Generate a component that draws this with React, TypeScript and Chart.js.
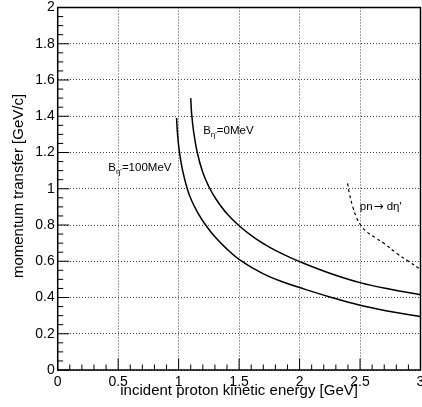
import { useEffect, useRef } from "react";
import { Chart, registerables } from "chart.js";

Chart.register(...registerables);

// incident proton kinetic energy [GeV] and momentum transfer [GeV/c]
const b0Energy = [1.1, 1.108, 1.125, 1.154, 1.2, 1.259, 1.314, 1.4, 1.5, 1.625, 1.75, 1.875, 2.0, 2.25, 2.5, 2.75, 3.0];
const b0Transfer = [1.5, 1.41, 1.31, 1.2, 1.09, 1.0, 0.938, 0.862, 0.796, 0.73, 0.678, 0.635, 0.598, 0.534, 0.482, 0.445, 0.415];

const b100Energy = [0.983, 0.99, 1.005, 1.03, 1.071, 1.107, 1.16, 1.223, 1.3, 1.4, 1.5, 1.625, 1.75, 1.875, 2.0, 2.25, 2.5, 2.75, 3.0];
const b100Transfer = [1.39, 1.31, 1.21, 1.11, 1.0, 0.935, 0.866, 0.8, 0.735, 0.667, 0.61, 0.558, 0.515, 0.483, 0.455, 0.403, 0.357, 0.323, 0.295];

const etaPrimeEnergy = [2.397, 2.41, 2.44, 2.475, 2.51, 2.56, 2.63, 2.7, 2.8, 2.9, 3.0];
const etaPrimeTransfer = [1.03, 0.98, 0.9, 0.835, 0.795, 0.76, 0.728, 0.698, 0.645, 0.6, 0.556];

const xTicks = [0, 0.5, 1, 1.5, 2, 2.5, 3];
const yTicks = [0, 0.2, 0.4, 0.6, 0.8, 1, 1.2, 1.4, 1.6, 1.8, 2];

const xTitle = "incident proton kinetic energy [GeV]";
const yTitle = "momentum transfer [GeV/c]";

const FONT = "'Liberation Sans', Arial, Helvetica, sans-serif";

const toPoints = (xs: number[], ys: number[]) => xs.map((x, i) => ({ x, y: ys[i] }));

const decorPlugin = {
  id: "decor",
  afterDraw(chart: any) {
    const { ctx, chartArea: a, scales } = chart;
    const xs = scales.x;
    const ys = scales.y;
    ctx.save();
    ctx.strokeStyle = "#000";
    ctx.lineWidth = 1;
    for (let i = 0; i <= 30; i++) {
      const v = i / 10;
      const px = xs.getPixelForValue(v);
      const len = i % 5 === 0 ? 11.5 : 5.5;
      ctx.beginPath();
      ctx.moveTo(px, a.bottom);
      ctx.lineTo(px, a.bottom - len);
      ctx.stroke();
    }
    for (let i = 0; i <= 40; i++) {
      const v = i * 0.05;
      const py = ys.getPixelForValue(v);
      const len = i % 4 === 0 ? 11.5 : 5.5;
      ctx.beginPath();
      ctx.moveTo(a.left, py);
      ctx.lineTo(a.left + len, py);
      ctx.stroke();
    }
    ctx.lineWidth = 1.5;
    ctx.strokeRect(a.left, a.top, a.right - a.left, a.bottom - a.top);

    ctx.fillStyle = "#000";
    ctx.font = `15px ${FONT}`;
    ctx.textAlign = "center";
    ctx.textBaseline = "middle";
    ctx.fillText(xTitle, (a.left + a.right) / 2, 391);
    ctx.save();
    ctx.translate(19, 186);
    ctx.rotate(-Math.PI / 2);
    ctx.fillText(yTitle, 0, 0);
    ctx.restore();

    const drawB = (label: string, xv: number, yv: number) => {
      let px = xs.getPixelForValue(xv);
      const py = ys.getPixelForValue(yv);
      ctx.textAlign = "left";
      ctx.textBaseline = "middle";
      ctx.font = `11.5px ${FONT}`;
      ctx.fillText("B", px, py);
      px += ctx.measureText("B").width;
      ctx.font = `8px ${FONT}`;
      ctx.fillText("\u03B7'", px, py + 4);
      px += ctx.measureText("\u03B7'").width;
      ctx.font = `11.5px ${FONT}`;
      ctx.fillText(label, px, py);
    };
    drawB("=0MeV", 1.203, 1.317);
    drawB("=100MeV", 0.418, 1.114);

    let px0 = xs.getPixelForValue(2.498);
    const py0 = ys.getPixelForValue(0.902);
    ctx.font = `11.5px ${FONT}`;
    ctx.textAlign = "left";
    ctx.textBaseline = "middle";
    ctx.fillText("pn", px0, py0);
    px0 += ctx.measureText("pn").width + 1;
    ctx.font = `12px 'DejaVu Sans', sans-serif`;
    ctx.fillText("\u2192", px0, py0);
    px0 += ctx.measureText("\u2192").width + 3;
    ctx.font = `11.5px ${FONT}`;
    ctx.fillText("d\u03B7'", px0, py0);
    ctx.restore();
  },
};

export default function App() {
  const ref = useRef<HTMLCanvasElement | null>(null);
  useEffect(() => {
    if (!ref.current) return;
    const line = (xs: number[], ys: number[], dash: number[], width: number) => ({
      data: toPoints(xs, ys),
      showLine: true,
      borderColor: "#000",
      borderWidth: width,
      borderDash: dash,
      pointRadius: 0,
      fill: false,
      tension: 0.4,
    });
    const chart = new Chart(ref.current, {
      type: "scatter",
      data: {
        datasets: [
          line(b0Energy, b0Transfer, [], 1.5),
          line(b100Energy, b100Transfer, [], 1.5),
          line(etaPrimeEnergy, etaPrimeTransfer, [3, 3], 1.2),
        ],
      },
      plugins: [decorPlugin],
      options: {
        animation: false,
        responsive: false,
        devicePixelRatio: 1,
        layout: { padding: { left: 0, right: 1.5, top: 7.5, bottom: 0 } },
        plugins: { legend: { display: false }, tooltip: { enabled: false } },
        scales: {
          x: {
            type: "linear",
            min: 0,
            max: 3,
            afterBuildTicks: (s: any) => {
              s.ticks = xTicks.map((v) => ({ value: v }));
            },
            afterFit: (s: any) => {
              s.height = 37;
              s.paddingLeft = 0;
              s.paddingRight = 0;
            },
            border: { display: false, dash: [1, 2] },
            grid: { color: "#444", lineWidth: 1, drawTicks: false },
            ticks: {
              color: "#000",
              padding: 4,
              maxRotation: 0,
              autoSkip: false,
              font: { family: FONT, size: 14 },
              callback: (v: any) => String(Math.round(Number(v) * 10) / 10),
            },
          },
          y: {
            type: "linear",
            min: 0,
            max: 2,
            afterBuildTicks: (s: any) => {
              s.ticks = yTicks.map((v) => ({ value: v }));
            },
            afterFit: (s: any) => {
              s.width = 57.7;
              s.paddingTop = 0;
              s.paddingBottom = 0;
            },
            border: { display: false, dash: [1, 2] },
            grid: { color: "#444", lineWidth: 1, drawTicks: false },
            ticks: {
              color: "#000",
              padding: 3,
              autoSkip: false,
              font: { family: FONT, size: 14 },
              callback: (v: any) => String(Math.round(Number(v) * 10) / 10),
            },
          },
        },
      },
    });
    return () => chart.destroy();
  }, []);
  return (
    <div style={{ position: "absolute", left: 0, top: 0, width: 422, height: 407, background: "#fff" }}>
      <canvas ref={ref} width={422} height={407} style={{ width: 422, height: 407, display: "block" }} />
    </div>
  );
}
